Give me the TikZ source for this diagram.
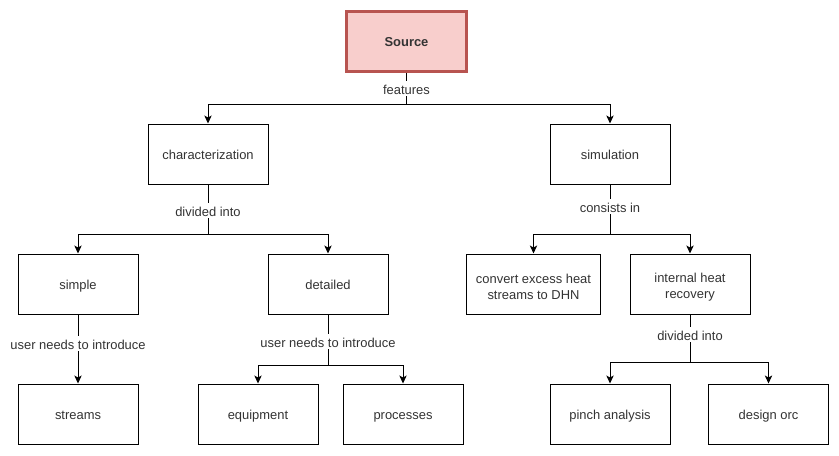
\documentclass[tikz,border=0pt]{standalone}
\usepackage{fontspec}
\setmainfont{Liberation Sans}
\usetikzlibrary{arrows.meta}
\definecolor{srcfill}{HTML}{F8CECC}
\definecolor{srcline}{HTML}{B85450}
\tikzset{
  cell/.style={draw, line width=0.75pt, fill=white, minimum width=90pt, minimum height=45pt,
    align=center, inner sep=2pt, font=\fontsize{9.7}{12}\selectfont, text=black!80},
  box/.style={cell, text height=8.5pt, text depth=1pt},
  srcbox/.style={box, fill=srcfill, draw=srcline, line width=2pt, font=\fontsize{9.7}{12}\selectfont\bfseries},
  lbl/.style={fill=white, inner sep=1pt, font=\fontsize{9.7}{12}\selectfont, text=black!80,
    text height=9.5pt, text depth=0pt},
  link/.style={line width=0.75pt, -{Stealth[length=6pt,width=5.5pt,inset=1.5pt]}}
}
\begin{document}
\begin{tikzpicture}[x=0.75pt,y=-0.75pt]
\useasboundingbox (0,0) rectangle (839,455);
% top level
\node[srcbox] (src) at (406.5,41.5) {Source};
\node[box] (char) at (208,154) {characterization};
\node[box] (sim) at (610,154) {simulation};
% second level
\node[box] (simple) at (78,284) {simple};
\node[box] (det) at (328,284) {detailed};
\node[cell, minimum width=100.5pt] (conv) at (533.5,284) {\rule{0pt}{11.5pt}convert excess heat\\streams to DHN};
\node[cell] (ihr) at (690,284) {\rule{0pt}{11.5pt}internal heat\\recovery};
% third level
\node[box] (streams) at (78,414) {streams};
\node[box] (equip) at (258,414) {equipment};
\node[box] (proc) at (403,414) {processes};
\node[box] (pinch) at (610,414) {pinch analysis};
\node[box] (orc) at (768.5,414) {design orc};
% branch points
\coordinate (jsrc) at (406.5,104);
\coordinate (jchar) at (208,234);
\coordinate (jsim) at (610,234);
\coordinate (jdet) at (328,365);
\coordinate (jihr) at (690,362);
% connectors
\draw[line width=0.75pt] (src) -- node[lbl]{features} (jsrc);
\draw[link] (jsrc) -| (char);
\draw[link] (jsrc) -| (sim);
\draw[line width=0.75pt] (char) -- node[lbl, pos=0.52]{divided into} (jchar);
\draw[link] (jchar) -| (simple);
\draw[link] (jchar) -| (det);
\draw[line width=0.75pt] (sim) -- node[lbl, pos=0.44]{consists in} (jsim);
\draw[link] (jsim) -| (conv);
\draw[link] (jsim) -| (ihr);
\draw[link] (simple) -- node[lbl, pos=0.42]{user needs to introduce} (streams);
\draw[line width=0.75pt] (det) -- node[lbl, pos=0.53]{user needs to introduce} (jdet);
\draw[link] (jdet) -| (equip);
\draw[link] (jdet) -| (proc);
\draw[line width=0.75pt] (ihr) -- node[lbl, pos=0.42]{divided into} (jihr);
\draw[link] (jihr) -| (pinch);
\draw[link] (jihr) -| (orc);
\end{tikzpicture}
\end{document}
